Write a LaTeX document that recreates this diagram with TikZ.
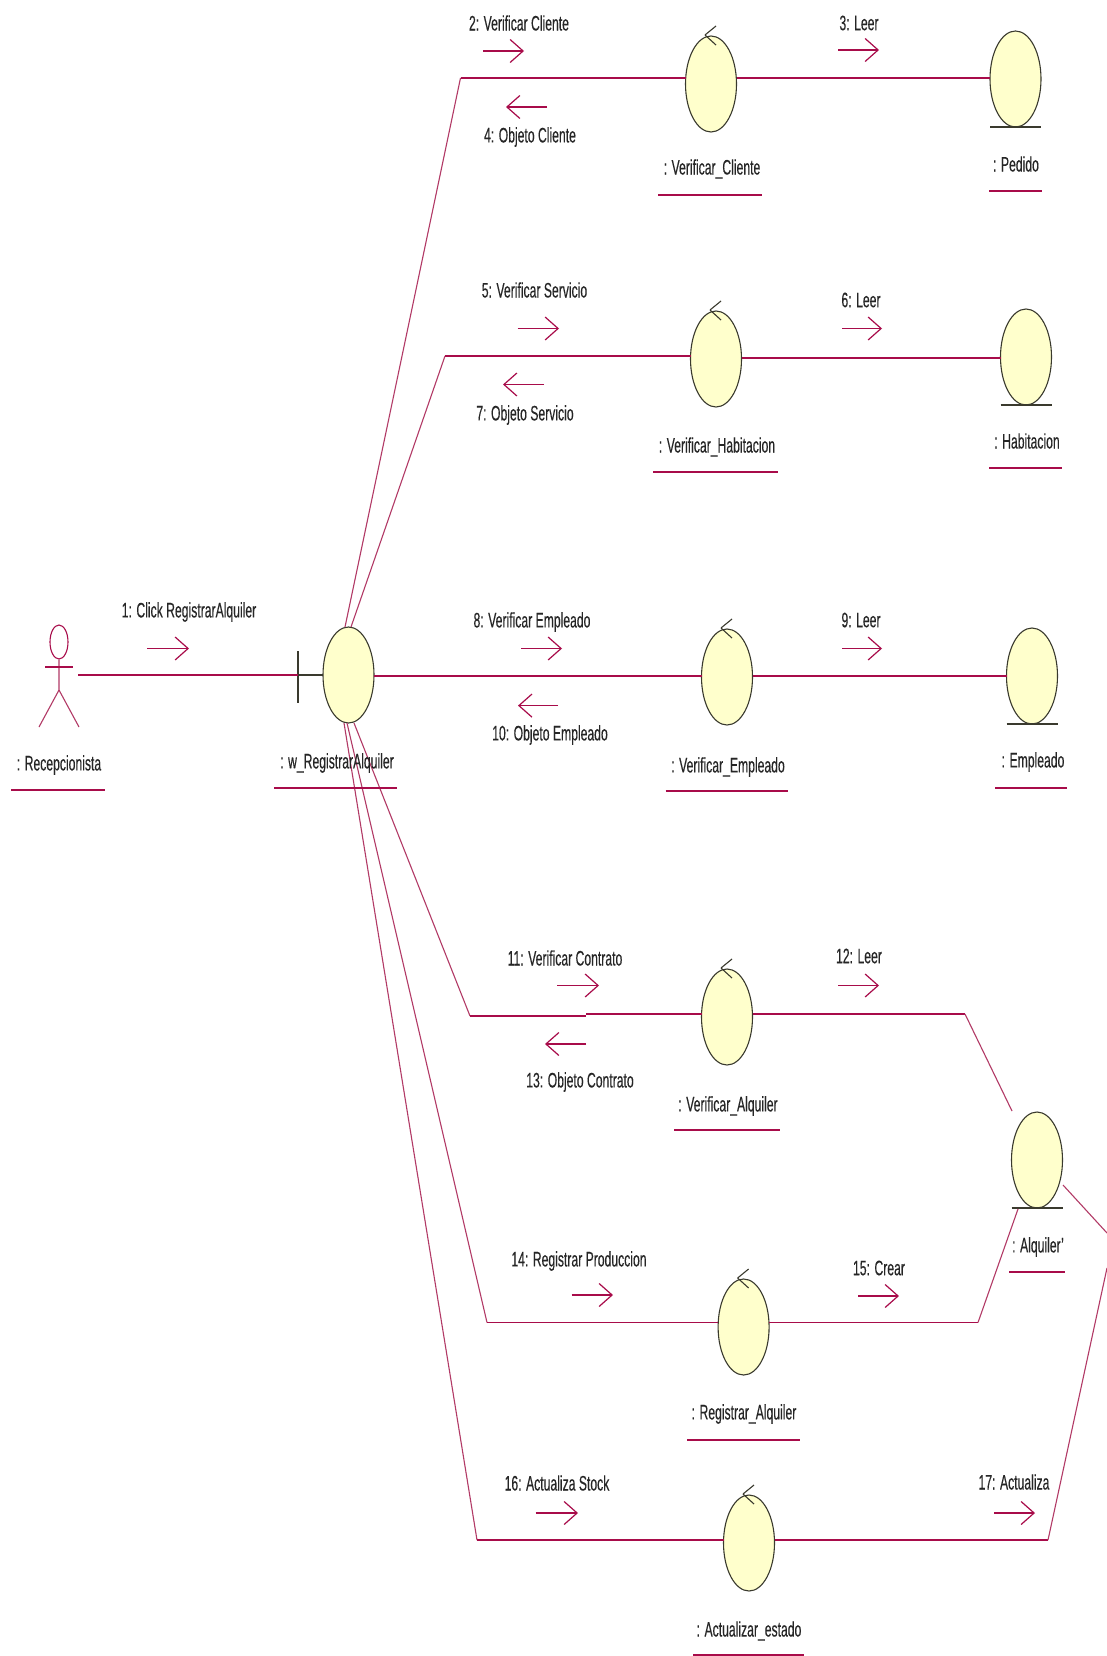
\documentclass[tikz,border=0pt]{standalone}
\usepackage{fontspec}
\setmainfont[FakeStretch=0.58,FakeBold=0.25]{Liberation Sans}
\usetikzlibrary{shapes.geometric,arrows.meta}
\definecolor{wine}{HTML}{A80C4A}
\definecolor{thinwine}{HTML}{B23A66}
\definecolor{obj}{HTML}{FFFFCC}
\definecolor{edgegray}{HTML}{3A3A2E}
\tikzset{
  conn/.style={draw=wine,line width=1.8pt},
  slant/.style={draw=thinwine,line width=1.1pt},
  msg/.style={draw=wine,line width=1.4pt,-{Straight Barb[length=13pt,width=23pt,line width=1.2pt]}},
  lifeline/.style={draw=edgegray,line width=1.1pt},
  objshape/.style={ellipse,draw=edgegray,line width=1.1pt,fill=obj,minimum width=51pt,minimum height=96pt,inner sep=0pt,outer sep=0pt},
  lab/.style={font=\fontsize{21}{24}\selectfont,text=black!85,inner sep=0pt},
  under/.style={draw=wine,line width=1.6pt},
  actorline/.style={draw=thinwine,line width=1.1pt}
}
\newcommand{\ctrlmark}[1]{\draw[lifeline] ([shift={(-6pt,0pt)}]#1.north) ++(0pt,1pt) -- ++(11pt,9pt) ++(-11pt,-9pt) -- ++(11pt,-10pt);}
\newcommand{\msgarrow}[4]{\coordinate (#1s) at (#2,#4);\coordinate (#1e) at (#3,#4);\draw[msg] (#1s) -- (#1e);}
\newcommand{\uline}[4]{\coordinate (#1a) at (#2,#4);\coordinate (#1b) at (#3,#4);\draw[under] (#1a) -- (#1b);}
\begin{document}
\begin{tikzpicture}[x=1pt,y=-1pt]
\path[use as bounding box,fill=white] (0,0) rectangle (1107,1656);
% objects
\node[objshape] (w) at (348.5,675) {};
\node[objshape] (vc) at (711,84) {};
\node[objshape] (ped) at (1015.5,79) {};
\node[objshape] (vh) at (716,359) {};
\node[objshape] (hab) at (1026,357) {};
\node[objshape] (ve) at (727,677) {};
\node[objshape] (emp) at (1032,676) {};
\node[objshape] (va) at (727,1017) {};
\node[objshape] (alq) at (1037,1160) {};
\node[objshape] (ra) at (743.6,1327) {};
\node[objshape] (ae) at (749,1543) {};
\foreach \n in {vc,vh,ve,va,ra,ae}{\ctrlmark{\n}}
\draw[lifeline,line width=1.6pt] (ped.south -| ped.west) -- (ped.south -| ped.east);
\draw[lifeline,line width=1.6pt] (hab.south -| hab.west) -- (hab.south -| hab.east);
\draw[lifeline,line width=1.6pt] (emp.south -| emp.west) -- (emp.south -| emp.east);
\draw[lifeline,line width=1.6pt] (alq.south -| alq.west) -- (alq.south -| alq.east);
% boundary mark
\coordinate (tickT) at (298,651);
\coordinate (tickB) at (298,703);
\coordinate (tickM) at (298,675);
\draw[lifeline] (tickT) -- (tickB);
\draw[lifeline] (tickM) -- (w.west);
% actor
\node[ellipse,draw=wine,line width=1.1pt,minimum width=18pt,minimum height=34pt,inner sep=0pt] (act) at (59,642) {};
\coordinate (hip) at (59,690);
\coordinate (armL) at (45,667);
\coordinate (armR) at (73,667);
\coordinate (legL) at (39,727);
\coordinate (legR) at (79,727);
\coordinate (actR) at (78,675);
\draw[actorline] (act.south) -- (hip) -- (legL) (hip) -- (legR);
\draw[under] (armL) -- (armR);
% connectors
\draw[conn] (actR) -- (tickM);
\coordinate (b1) at (460.5,78);
\coordinate (b2) at (445,356);
\coordinate (b4) at (470,1016);
\coordinate (b4a) at (586,1016);
\coordinate (b4b) at (586,1014);
\coordinate (b5) at (487,1322.5);
\coordinate (b6) at (477,1540);
\coordinate (r3) at (800,676);
\draw[slant] ([xshift=-3.5pt]w.north) -- (b1);
\draw[conn] (b1) -- (b1 -| vc.west);
\draw[conn] (b1 -| vc.east) -- (b1 -| ped.west);
\draw[slant] ([xshift=2.5pt]w.north) -- (b2);
\draw[conn] (b2) -- (b2 -| vh.west);
\coordinate (r2) at (800,358);
\draw[conn] (r2 -| vh.east) -- (r2 -| hab.west);
\draw[conn] (r3 -| w.east) -- (r3 -| ve.west);
\draw[conn] (r3 -| ve.east) -- (r3 -| emp.west);
\draw[slant] ([xshift=5.5pt]w.south) -- (b4);
\draw[conn] (b4) -- (b4a);
\draw[conn] (b4b) -- (b4b -| va.west);
\draw[slant] ([xshift=-1.5pt]w.south) -- (b5);
\draw[conn] (b5) -- (b5 -| ra.west);
\draw[slant] ([xshift=-4.5pt]w.south) -- (b6);
\draw[conn] (b6) -- (b6 -| ae.west);
% right side
\coordinate (c1) at (965,1014);
\coordinate (c1e) at (1012,1111);
\coordinate (c2) at (978,1322.5);
\coordinate (c2e) at (1018,1209);
\coordinate (c3) at (1048,1540);
\coordinate (c3e) at (1107,1268);
\coordinate (c4s) at (1063,1185);
\coordinate (c4e) at (1107,1233);
\draw[conn] (c1 -| va.east) -- (c1);
\draw[slant] (c1) -- (c1e);
\draw[conn] (c2 -| ra.east) -- (c2);
\draw[slant] (c2) -- (c2e);
\draw[conn] (c3 -| ae.east) -- (c3);
\draw[slant] (c3) -- (c3e);
\draw[slant] (c4s) -- (c4e);
% message arrows
\msgarrow{m1}{147}{189}{648.5}
\msgarrow{m2}{483}{524}{51}
\msgarrow{m4}{547}{506}{107}
\msgarrow{m3}{838}{879}{50}
\msgarrow{m5}{517.5}{559}{328.5}
\msgarrow{m7}{544}{503}{384.5}
\msgarrow{m6}{842}{882}{328.5}
\msgarrow{m8}{521}{562}{648.5}
\msgarrow{m10}{558}{518}{705.6}
\msgarrow{m9}{842}{882}{648.5}
\msgarrow{m11}{557}{599}{985.5}
\msgarrow{m13}{586}{545}{1044}
\msgarrow{m12}{838}{879}{985.5}
\msgarrow{m14}{571.5}{613}{1295}
\msgarrow{m15}{858}{899}{1296}
\msgarrow{m16}{535.5}{578}{1513}
\msgarrow{m17}{994}{1035}{1513}
% message labels
\node[lab] (l1) at (189,612) {1: Click RegistrarAlquiler};
\node[lab] (l2) at (519,23) {2: Verificar Cliente};
\node[lab] (l3) at (859,23) {3: Leer};
\node[lab] (l4) at (530,137) {4: Objeto Cliente};
\node[lab] (l5) at (534.5,290) {5: Verificar Servicio};
\node[lab] (l6) at (861,300) {6: Leer};
\node[lab] (l7) at (525,415) {7: Objeto Servicio};
\node[lab] (l8) at (532,622) {8: Verificar Empleado};
\node[lab] (l9) at (861,620) {9: Leer};
\node[lab] (l10) at (550,735) {10: Objeto Empleado};
\node[lab] (l11) at (565,958) {11: Verificar Contrato};
\node[lab] (l12) at (859,956) {12: Leer};
\node[lab] (l13) at (580,1082) {13: Objeto Contrato};
\node[lab] (l14) at (579,1261) {14: Registrar Produccion};
\node[lab] (l15) at (879,1268) {15: Crear};
\node[lab] (l16) at (557,1483) {16: Actualiza Stock};
\node[lab] (l17) at (1014,1482) {17: Actualiza};
% object labels
\node[lab] (n1) at (59,765) {: Recepcionista};
\node[lab] (n2) at (337,763) {: w\_RegistrarAlquiler};
\node[lab] (n3) at (712,169) {: Verificar\_Cliente};
\node[lab] (n4) at (1016,164) {: Pedido};
\node[lab] (n5) at (717,447) {: Verificar\_Habitacion};
\node[lab] (n6) at (1027,441) {: Habitacion};
\node[lab] (n7) at (728,767) {: Verificar\_Empleado};
\node[lab] (n8) at (1033,762) {: Empleado};
\node[lab] (n9) at (728,1106) {: Verificar\_Alquiler};
\node[lab] (n10) at (1038,1247) {: Alquiler'};
\node[lab] (n11) at (744,1414) {: Registrar\_Alquiler};
\node[lab] (n12) at (749,1631) {: Actualizar\_estado};
% underlines
\uline{u1}{11}{105}{790}
\uline{u2}{274}{397}{788}
\uline{u3}{658}{762}{195}
\uline{u4}{989}{1042}{191}
\uline{u5}{653}{778}{472}
\uline{u6}{989}{1062}{468}
\uline{u7}{665.5}{788}{791}
\uline{u8}{995}{1067}{788}
\uline{u9}{674}{780}{1130}
\uline{u10}{1009}{1065}{1272}
\uline{u11}{687}{800}{1440}
\uline{u12}{693}{804}{1655}
\end{tikzpicture}
\end{document}
